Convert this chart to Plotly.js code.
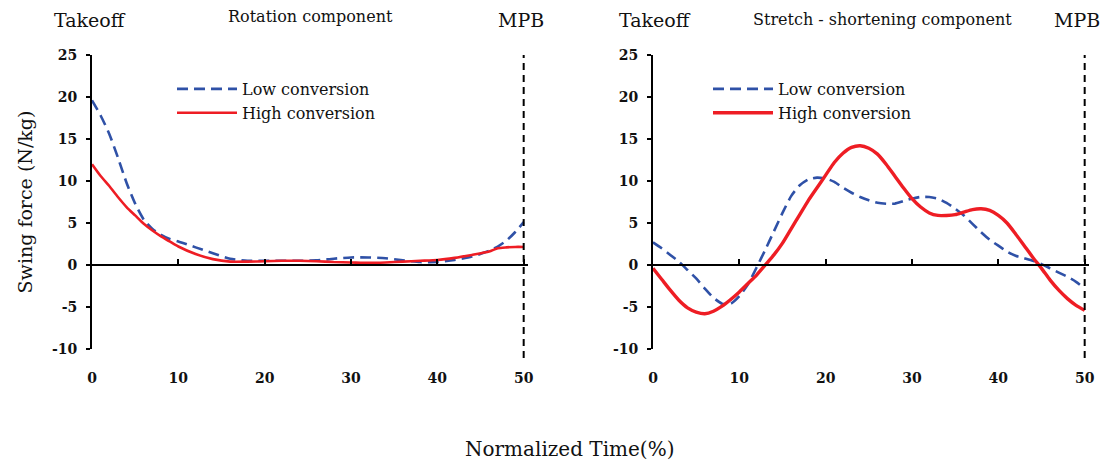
<!DOCTYPE html>
<html><head><meta charset="utf-8">
<script src="https://cdn.plot.ly/plotly-3.0.1.min.js"></script>
<style>html,body{margin:0;padding:0;background:#fff;}#chart{width:1110px;height:463px;}</style>
</head><body><div id="chart"></div>
<script>
// ---- data ----
const rotX = [0,1,2,3,4,5,6,7,8,9,10,12,14,16,18,20,22,24,26,28,30,32,34,36,38,40,42,44,46,47,48,49,50];
const rotLow = [19.6,17.8,15.6,12.8,9.8,7.3,5.4,4.3,3.6,3.1,2.8,2.1,1.4,0.75,0.5,0.5,0.5,0.5,0.55,0.75,0.9,0.9,0.8,0.55,0.35,0.35,0.6,1.0,1.7,2.2,2.9,3.9,5.1];
const rotHigh = [12.0,10.6,9.4,8.1,6.9,5.9,4.9,4.1,3.4,2.8,2.2,1.3,0.7,0.4,0.4,0.45,0.5,0.5,0.45,0.35,0.3,0.25,0.3,0.4,0.5,0.6,0.85,1.2,1.6,2.0,2.1,2.15,2.15];

const sscX = [0,1,2,3,4,5,6,7,8,9,10,11,12,13,14,15,16,17,18,19,20,21,22,23,24,25,26,27,28,29,30,31,32,33,34,35,36,37,38,39,40,41,42,43,44,45,46,47,48,49,50];
const sscLow = [2.7,2.0,1.2,0.4,-0.6,-1.6,-2.8,-3.9,-4.6,-4.6,-3.7,-2.3,-0.3,1.8,4.0,6.2,8.2,9.5,10.2,10.4,10.3,9.9,9.2,8.6,8.1,7.7,7.4,7.3,7.3,7.6,7.9,8.1,8.1,7.9,7.4,6.7,5.9,4.9,3.9,3.0,2.3,1.6,1.1,0.8,0.5,0.1,-0.4,-0.9,-1.4,-2.0,-2.8];
const sscHigh = [-0.4,-1.7,-3.0,-4.2,-5.1,-5.6,-5.8,-5.5,-4.9,-4.1,-3.2,-2.2,-1.2,0.0,1.2,2.6,4.3,6.0,7.7,9.2,10.7,12.2,13.3,14.0,14.2,13.9,13.2,12.0,10.6,9.2,7.9,6.9,6.2,5.9,5.9,6.0,6.3,6.6,6.7,6.5,5.9,5.0,3.7,2.3,0.9,-0.4,-1.8,-3.0,-4.0,-4.8,-5.4];

const seriesNames = ['Low conversion','High conversion'];
const panelTitles = ['Rotation component','Stretch - shortening component'];
const startLabel = 'Takeoff';
const endLabel = 'MPB';
const endX = 50;
const yTicks = [-10,-5,0,5,10,15,20,25];
const yTickText = ['-10','-5','0','5','10','15','20','25'];
const xTicks = [0,10,20,30,40,50];
const xTitle = 'Normalized Time(%)';
const yTitle = 'Swing force (N/kg)';

// ---- style ----
const FONT = 'DejaVu Serif, Liberation Serif, serif';
const BLUE = '#2f51a7';
const RED = '#ee1d24';
const W = 1110, H = 463;
const px = v => v / W;
const py = v => 1 - v / H;

const leftDom = [px(92), px(528)];
const rightDom = [px(653), px(1089)];
const yDom = [py(349), py(55)];
const zeroPos = py(265);

const traces = [
  {x: rotX, y: rotLow, name: seriesNames[0], mode:'lines', line:{color:BLUE, width:2.6, dash:'11px,6px', shape:'spline', smoothing:0.6}, xaxis:'x', yaxis:'y', legend:'legend', legendgroup:'a'},
  {x: rotX, y: rotHigh, name: seriesNames[1], mode:'lines', line:{color:RED, width:2.6, shape:'spline', smoothing:0.6}, xaxis:'x', yaxis:'y', legend:'legend', legendgroup:'b'},
  {x: sscX, y: sscLow, name: seriesNames[0], mode:'lines', line:{color:BLUE, width:2.6, dash:'11px,6px', shape:'spline', smoothing:0.6}, xaxis:'x2', yaxis:'y2', legend:'legend2', legendgroup:'c'},
  {x: sscX, y: sscHigh, name: seriesNames[1], mode:'lines', line:{color:RED, width:3.4, shape:'spline', smoothing:0.6}, xaxis:'x2', yaxis:'y2', legend:'legend2', legendgroup:'d'},
  {x: [], y: [], xaxis:'x3', yaxis:'y', showlegend:false, hoverinfo:'skip'},
  {x: [], y: [], xaxis:'x4', yaxis:'y2', showlegend:false, hoverinfo:'skip'}
];

function bottomAxis(dom, anchor){
  return {domain: dom, range:[0,50.5], anchor: anchor, showline:false, showgrid:false, zeroline:false,
    ticks:'', tickvals: xTicks, ticklabelstandoff: 19,
    tickfont:{family:FONT, size:14, color:'#111', weight:700}, fixedrange:true};
}
function zeroAxis(over){
  return {overlaying: over, anchor:'free', position: zeroPos, range:[0,50.5], side:'bottom',
    showline:true, linecolor:'#000', linewidth:2, showgrid:false, zeroline:false,
    ticks:'inside', ticklen:5, tickwidth:2, tickcolor:'#000', tickvals:[10,20,30,40,50], showticklabels:false};
}
function leftAxis(anchor, withTitle){
  const a = {domain: yDom, range:[-10,25], anchor: anchor, showline:true, linecolor:'#000', linewidth:2,
    showgrid:false, zeroline:false, ticks:'outside', ticklen:4, tickwidth:2, tickcolor:'#000',
    tickvals: yTicks, ticktext: yTickText, ticklabelstandoff: 6,
    tickfont:{family:FONT, size:14, color:'#111', weight:700}, fixedrange:true};
  if (withTitle) a.title = {text: yTitle, font:{family:FONT, size:19, color:'#111'}, standoff: 14};
  return a;
}

const ann = (text, x, y, s) => ({text, x: px(x), y: py(y), xref:'paper', yref:'paper', xanchor:'center', yanchor:'middle',
  showarrow:false, font:{family:FONT, size:s, color:'#111'}});
const annotations = [
  ann(startLabel, 90, 20, 19),
  ann(panelTitles[0], 310, 17, 16),
  ann(endLabel, 521, 20, 19),
  ann(startLabel, 655, 20, 19),
  ann(panelTitles[1], 882, 19, 16),
  ann(endLabel, 1077, 20, 19),
  ann(xTitle, 569, 449, 20)
];

const shapes = [
  {type:'line', xref:'x', yref:'paper', x0:endX, x1:endX, y0: py(358), y1: yDom[1], line:{color:'#000', width:2, dash:'7px,5px'}},
  {type:'line', xref:'x2', yref:'paper', x0:endX, x1:endX, y0: py(358), y1: yDom[1], line:{color:'#000', width:2, dash:'7px,5px'}}
];

const legendBase = {xanchor:'left', yanchor:'top', bgcolor:'rgba(0,0,0,0)', font:{family:FONT, size:16, color:'#111'},
  itemwidth: 60, tracegroupgap: 6, traceorder:'normal'};

const layout = {
  width: W, height: H, margin:{l:0,r:0,t:0,b:0}, paper_bgcolor:'#fff', plot_bgcolor:'rgba(0,0,0,0)',
  xaxis: bottomAxis(leftDom, 'y'),
  yaxis: leftAxis('x', true),
  xaxis2: bottomAxis(rightDom, 'y2'),
  yaxis2: leftAxis('x2', false),
  xaxis3: zeroAxis('x'),
  xaxis4: zeroAxis('x2'),
  legend: Object.assign({}, legendBase, {x: px(172), y: py(72)}),
  legend2: Object.assign({}, legendBase, {x: px(708), y: py(72)}),
  annotations, shapes, showlegend:true
};

Plotly.newPlot('chart', traces, layout, {displayModeBar:false, staticPlot:true});
</script>
</body></html>
